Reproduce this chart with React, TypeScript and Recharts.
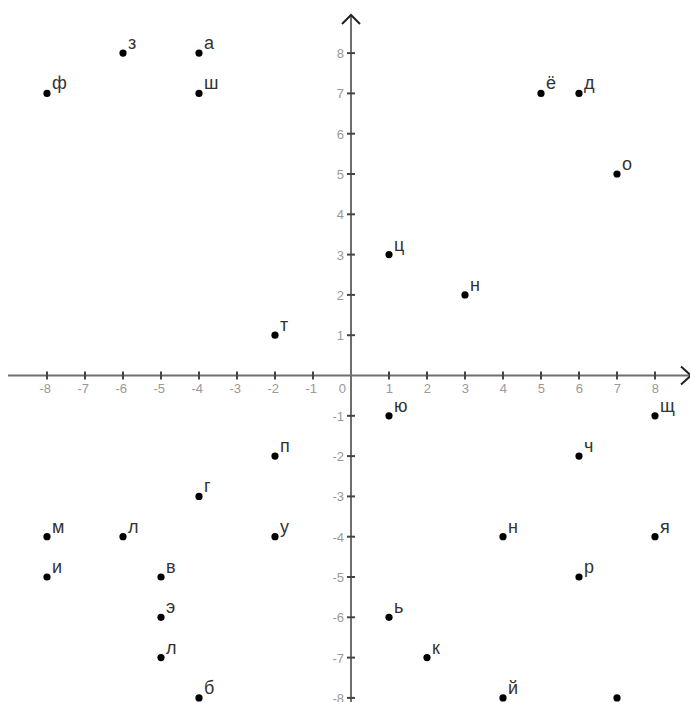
import React from 'react';
import { ScatterChart, Scatter, XAxis, YAxis, ReferenceLine } from 'recharts';

// ---- data ----
const POINT_LABELS = ['з','а','ф','ш','ё','д','о','ц','н','т','ю','щ','п','ч','г','м','л','у','н','я','и','в','р','э','ь','л','к','б','й',''];
const POINT_X = [-6,-4,-8,-4,5,6,7,1,3,-2,1,8,-2,6,-4,-8,-6,-2,4,8,-8,-5,6,-5,1,-5,2,-4,4,7];
const POINT_Y = [8,8,7,7,7,7,5,3,2,1,-1,-1,-2,-2,-3,-4,-4,-4,-4,-4,-5,-5,-5,-6,-6,-7,-7,-8,-8,-8];
const X_TICKS = [-8,-7,-6,-5,-4,-3,-2,-1,1,2,3,4,5,6,7,8];
const Y_TICKS = [-8,-7,-6,-5,-4,-3,-2,-1,1,2,3,4,5,6,7,8];
const ORIGIN_LABEL = '0';

// ---- layout ----
const W = 690;
const H = 702;
const X_DOMAIN: [number, number] = [-9.2368, 8.9211];
const Y_DOMAIN: [number, number] = [-8.1017, 9.3176];
const X_AXIS_START = -9.026;
const Y_AXIS_END = 8.945;

const points = POINT_X.map((x, i) => ({ x, y: POINT_Y[i], label: POINT_LABELS[i] }));
const xTicks = X_TICKS.map((v) => ({ x: v, y: 0, label: String(v) }));
const yTicks = Y_TICKS.map((v) => ({ x: 0, y: v, label: String(v) }));
const origin = [{ x: 0, y: 0, label: ORIGIN_LABEL }];
const arrows = [
  { x: X_DOMAIN[1], y: 0, dir: 'right' },
  { x: 0, y: Y_AXIS_END, dir: 'up' },
];

const FONT = '"Liberation Sans", Arial, sans-serif';

const PointShape = (props: any) => {
  const { cx, cy, payload } = props;
  return (
    <g>
      <circle cx={cx} cy={cy} r={3.6} fill="#000" />
      {payload.label ? (
        <text x={cx + 5} y={cy - 4} fontSize={18} fontFamily={FONT} fill="#333">
          {payload.label}
        </text>
      ) : null}
    </g>
  );
};

const XTickShape = (props: any) => {
  const { cx, cy, payload } = props;
  return (
    <g>
      <line x1={cx} x2={cx} y1={cy - 4} y2={cy + 4} stroke="#444" strokeWidth={2} />
      <text x={cx + 4} y={cy + 17} textAnchor="end" fontSize={13} fontFamily={FONT} fill="#999">
        {payload.label}
      </text>
    </g>
  );
};

const YTickShape = (props: any) => {
  const { cx, cy, payload } = props;
  return (
    <g>
      <line x1={cx - 4} x2={cx + 4} y1={cy} y2={cy} stroke="#444" strokeWidth={2} />
      <text x={cx - 7} y={cy + 5} textAnchor="end" fontSize={13} fontFamily={FONT} fill="#999">
        {payload.label}
      </text>
    </g>
  );
};

const OriginShape = (props: any) => {
  const { cx, cy, payload } = props;
  return (
    <text x={cx - 5} y={cy + 17} textAnchor="end" fontSize={13} fontFamily={FONT} fill="#999">
      {payload.label}
    </text>
  );
};

const ArrowShape = (props: any) => {
  const { cx, cy, payload } = props;
  const d =
    payload.dir === 'right'
      ? `M${cx - 9},${cy - 9} L${cx + 1},${cy} L${cx - 9},${cy + 9}`
      : `M${cx - 9},${cy + 9} L${cx},${cy} L${cx + 9},${cy + 9}`;
  return <path d={d} fill="none" stroke="#222" strokeWidth={2} />;
};

export default function App() {
  return (
    <div style={{ position: 'absolute', left: 0, top: 0, width: W, height: H, background: '#fff' }}>
      <ScatterChart width={W} height={H} margin={{ top: 0, right: 0, bottom: 0, left: 0 }}>
        <XAxis type="number" dataKey="x" domain={X_DOMAIN} allowDataOverflow hide />
        <YAxis type="number" dataKey="y" domain={Y_DOMAIN} allowDataOverflow hide />
        <ReferenceLine
          segment={[{ x: X_AXIS_START, y: 0 }, { x: X_DOMAIN[1], y: 0 }]}
          stroke="#6e6e6e"
          strokeWidth={2}
          ifOverflow="visible"
        />
        <ReferenceLine
          segment={[{ x: 0, y: Y_DOMAIN[0] }, { x: 0, y: Y_AXIS_END }]}
          stroke="#6e6e6e"
          strokeWidth={2}
          ifOverflow="visible"
        />
        <Scatter data={arrows} shape={ArrowShape} isAnimationActive={false} />
        <Scatter data={xTicks} shape={XTickShape} isAnimationActive={false} />
        <Scatter data={yTicks} shape={YTickShape} isAnimationActive={false} />
        <Scatter data={origin} shape={OriginShape} isAnimationActive={false} />
        <Scatter data={points} shape={PointShape} isAnimationActive={false} />
      </ScatterChart>
    </div>
  );
}
